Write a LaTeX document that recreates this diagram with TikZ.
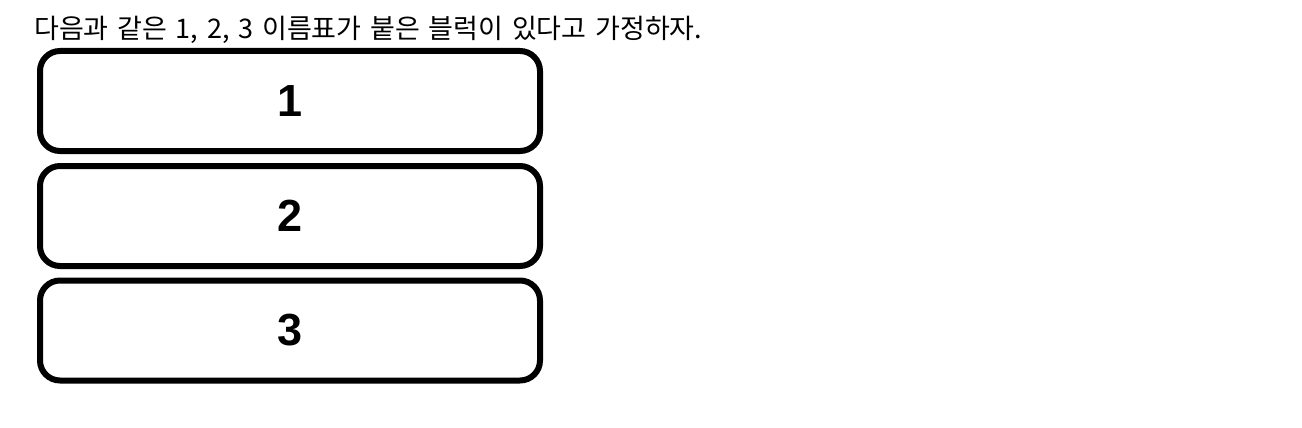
\documentclass[tikz,border=0pt]{standalone}
\usepackage{fontspec}
\newfontfamily\krfont[WordSpace=1.45]{Noto Sans CJK KR}
\newfontfamily\numfont{Liberation Sans}
\begin{document}
\begin{tikzpicture}[x=1pt,y=-1pt,
  block/.style={draw=black, line width=6pt, rounded corners=20pt,
    minimum width=500pt, minimum height=100pt, inner sep=0pt,
    font=\numfont\bfseries\fontsize{45}{45}\selectfont},
  title/.style={inner sep=0pt, anchor=base west,
    font=\krfont\fontsize{27}{30}\selectfont}]
\useasboundingbox (0,0) rectangle (1302,428);
\node[title] (t) at (34,39) {다음과 같은 1, 2, 3 이름표가 붙은 블럭이 있다고 가정하자.};
\node[block] (b1) at (290,101) {1};
\node[block] (b2) at (290,216) {2};
\node[block] (b3) at (290,330.5) {3};
\end{tikzpicture}
\end{document}
